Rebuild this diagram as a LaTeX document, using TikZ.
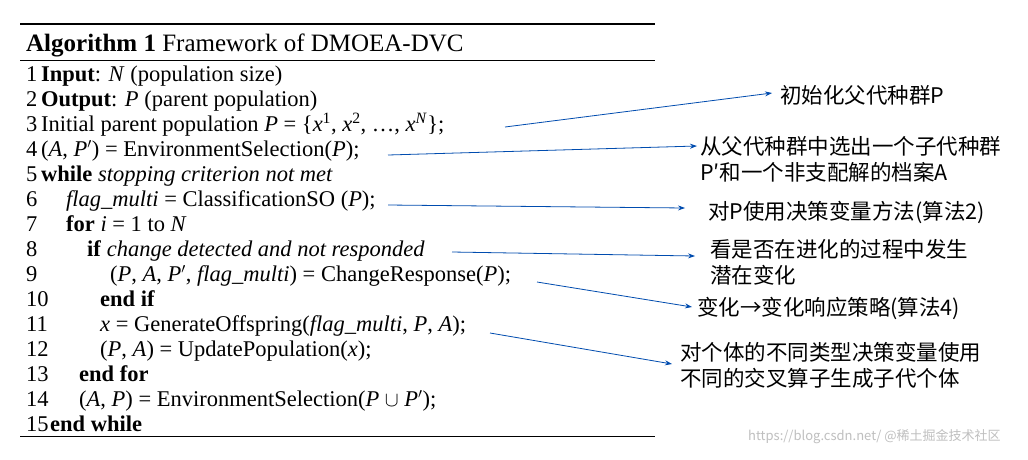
\documentclass[tikz,border=0pt]{standalone}
\usepackage{fontspec}
\usetikzlibrary{arrows.meta}
\setmainfont{Liberation Serif}
\newfontfamily\cjk{Noto Sans CJK SC}
\begin{document}
\begin{tikzpicture}[x=1pt,y=-1pt,
  alg/.style={anchor=base west,inner sep=0pt,font=\fontsize{22.5}{25}\selectfont},
  ann/.style={anchor=west,inner sep=0pt,font=\cjk\fontsize{21.5}{26}\selectfont,align=left},
  arr/.style={draw=blue!55!black!70!cyan,line width=0.8pt,-{Stealth[length=7pt,width=5pt]}}]
\useasboundingbox (0,0) rectangle (1028,459);
\fill[white] (0,0) rectangle (1028,459);
\draw[line width=1.3pt] (20,24) -- (655,24);
\draw[line width=0.6pt] (20,60) -- (655,60);
\draw[line width=0.6pt] (20,436) -- (655,436);
\node[alg,font=\fontsize{25}{28}\selectfont] (title) at (26,51) {\textbf{Algorithm 1} Framework of DMOEA-DVC};
\newcommand\nl[3]{\node[alg] at (26,#1) {#2}; \node[alg] at (#3,#1)}
\newcommand\eq{\ =\ }
\nl{81}{1}{41} (l1) {\textbf{Input}: \textit{N} (population size)};
\nl{106}{2}{41} (l2) {\textbf{Output}: \textit{P} (parent population)};
\nl{131}{3}{41} (l3) {Initial parent population \textit{P}\eq\{\textit{x}\textsuperscript{1}, \textit{x}\textsuperscript{2}, \ldots, \textit{x}\textsuperscript{\textit{N}}\};};
\nl{156}{4}{41} (l4) {(\textit{A}, \textit{P}$'$)\eq EnvironmentSelection(\textit{P});};
\nl{181}{5}{41} (l5) {\textbf{while} \textit{stopping criterion not met}};
\nl{206}{6}{66} (l6) {\textit{flag\_multi}\eq ClassificationSO (\textit{P});};
\nl{231}{7}{66} (l7) {\textbf{for} \textit{i}\eq 1 to \textit{N}};
\nl{256}{8}{87} (l8) {\textbf{if} \textit{change detected and not responded}};
\nl{281}{9}{110} (l9) {(\textit{P}, \textit{A}, \textit{P}$'$, \textit{flag\_multi})\eq ChangeResponse(\textit{P});};
\nl{306}{10}{100} (l10) {\textbf{end if}};
\nl{331}{11}{100} (l11) {\textit{x}\eq GenerateOffspring(\textit{flag\_multi}, \textit{P}, \textit{A});};
\nl{356}{12}{100} (l12) {(\textit{P}, \textit{A})\eq UpdatePopulation(\textit{x});};
\nl{381}{13}{79} (l13) {\textbf{end for}};
\nl{406}{14}{79} (l14) {(\textit{A}, \textit{P})\eq EnvironmentSelection(\textit{P} $\cup$ \textit{P}$'$);};
\nl{431}{15}{50} (l15) {\textbf{end while}};
% annotations
\node[ann] (a1) at (780,95) {初始化父代种群P};
\node[ann] (a2) at (700,159) {从父代种群中选出一个子代种群\\P′和一个非支配解的档案A};
\node[ann] (a3) at (708,212) {对P使用决策变量方法(算法2)};
\node[ann] (a4) at (710,262) {看是否在进化的过程中发生\\潜在变化};
\node[ann] (a5) at (697,308) {变化→变化响应策略(算法4)};
\node[ann] (a6) at (680,365) {对个体的不同类型决策变量使用\\不同的交叉算子生成子代个体};
\node[anchor=west,inner sep=0pt,text=black!25,font=\cjk\fontsize{13}{16}\selectfont] (wm) at (748,437) {https://blog.csdn.net/ @稀土掘金技术社区};
\coordinate (s1) at (505,127); \coordinate (t1) at (772,93);
\coordinate (s2) at (388,155); \coordinate (t2) at (697,146);
\coordinate (s3) at (388,205); \coordinate (t3) at (685,208);
\coordinate (s4) at (452,252); \coordinate (t4) at (695,256);
\coordinate (s5) at (537,282); \coordinate (t5) at (692,307);
\coordinate (s6) at (490,333); \coordinate (t6) at (672,364);
\foreach \i in {1,...,6} {\draw[arr] (s\i) -- (t\i);}
\end{tikzpicture}
\end{document}
